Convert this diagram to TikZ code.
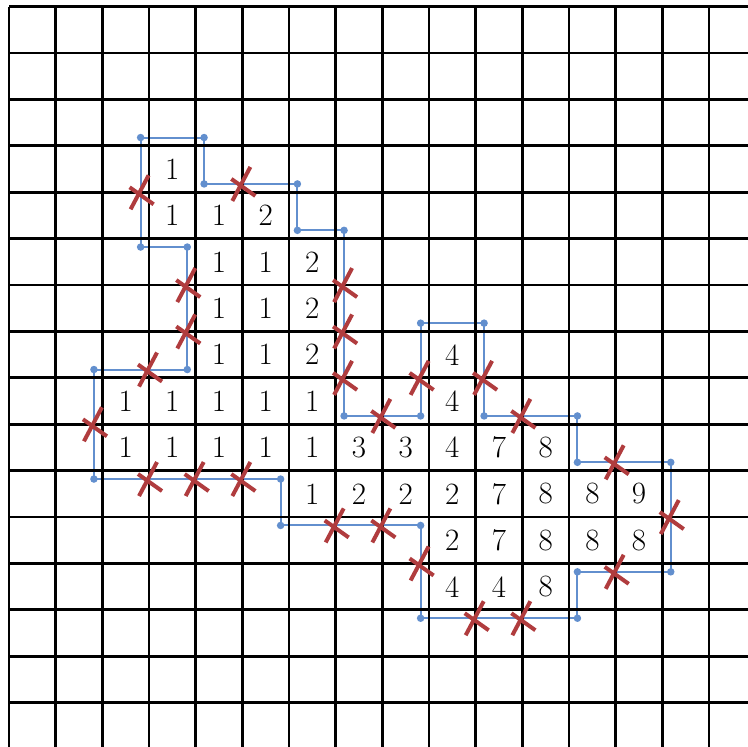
\documentclass[tikz,border=0pt]{standalone}
\definecolor{bluec}{RGB}{98,143,206}
\definecolor{redc}{RGB}{176,60,62}
\begin{document}
\begin{tikzpicture}[x=46.67pt,y=-46.4pt,
  gridline/.style={line width=2.8pt,black},
  boundary/.style={draw=bluec,line width=2pt,line join=miter},
  vdot/.style={circle,fill=bluec,inner sep=0pt,minimum size=7.5pt},
  num/.style={font=\fontsize{31}{33}\selectfont,inner sep=0pt},
  crossmark/.style={draw=redc,line width=4pt}]
\useasboundingbox (-0.1929,-0.1444) rectangle (15.835,15.955);
\fill[white] (-0.1929,-0.1444) rectangle (15.835,15.955);
% boundary vertices
\coordinate (v1) at (2.82,2.82);
\coordinate (v2) at (4.18,2.82);
\coordinate (v3) at (4.18,3.82);
\coordinate (v4) at (6.18,3.82);
\coordinate (v5) at (6.18,4.82);
\coordinate (v6) at (7.18,4.82);
\coordinate (v7) at (7.18,8.82);
\coordinate (v8) at (8.82,8.82);
\coordinate (v9) at (8.82,6.82);
\coordinate (v10) at (10.18,6.82);
\coordinate (v11) at (10.18,8.82);
\coordinate (v12) at (12.18,8.82);
\coordinate (v13) at (12.18,9.82);
\coordinate (v14) at (14.18,9.82);
\coordinate (v15) at (14.18,12.18);
\coordinate (v16) at (12.18,12.18);
\coordinate (v17) at (12.18,13.18);
\coordinate (v18) at (8.82,13.18);
\coordinate (v19) at (8.82,11.18);
\coordinate (v20) at (5.82,11.18);
\coordinate (v21) at (5.82,10.18);
\coordinate (v22) at (1.82,10.18);
\coordinate (v23) at (1.82,7.82);
\coordinate (v24) at (3.82,7.82);
\coordinate (v25) at (3.82,5.18);
\coordinate (v26) at (2.82,5.18);
\draw[boundary] (v1) -- (v2) -- (v3) -- (v4) -- (v5) -- (v6) -- (v7) -- (v8) -- (v9) -- (v10) -- (v11) -- (v12) -- (v13) -- (v14) -- (v15) -- (v16) -- (v17) -- (v18) -- (v19) -- (v20) -- (v21) -- (v22) -- (v23) -- (v24) -- (v25) -- (v26) -- cycle;
% grid
\begin{scope}
\clip (-0.1929,-0.1444) rectangle (15.835,15.955);
\foreach \i in {0,...,15} {
  \draw[gridline] (\i,0) -- (\i,16);
  \draw[gridline] (0,\i) -- (16,\i);
}
\end{scope}
% vertex dots
\foreach \k in {1,...,26} \node[vdot] (d\k) at (v\k) {};
% numbers
\foreach \c/\r/\v in {3/3/1,
  3/4/1,4/4/1,5/4/2,
  4/5/1,5/5/1,6/5/2,
  4/6/1,5/6/1,6/6/2,
  4/7/1,5/7/1,6/7/2,9/7/4,
  2/8/1,3/8/1,4/8/1,5/8/1,6/8/1,9/8/4,
  2/9/1,3/9/1,4/9/1,5/9/1,6/9/1,7/9/3,8/9/3,9/9/4,10/9/7,11/9/8,
  6/10/1,7/10/2,8/10/2,9/10/2,10/10/7,11/10/8,12/10/8,13/10/9,
  9/11/2,10/11/7,11/11/8,12/11/8,13/11/8,
  9/12/4,10/12/4,11/12/8}
  \node[num] (n\c-\r) at (\c+0.5,\r+0.5) {\v};
% cross marks
\foreach \x/\y [count=\k] in {2.82/4,5/3.82,7.18/6,7.18/7,7.18/8,8/8.82,8.82/8,10.18/8,
  11/8.82,13/9.82,14.18/11,13/12.18,10/13.18,11/13.18,8.82/12,7/11.18,8/11.18,
  3/10.18,4/10.18,5/10.18,1.82/9,3/7.82,3.82/6,3.82/7} {
  \coordinate (x\k) at (\x,\y);
  \draw[crossmark] (x\k) ++(8pt,17pt) -- ++(-18pt,-34pt);
  \draw[crossmark] (x\k) ++(-11pt,5pt) -- ++(24pt,-17pt);
}
\end{tikzpicture}
\end{document}
